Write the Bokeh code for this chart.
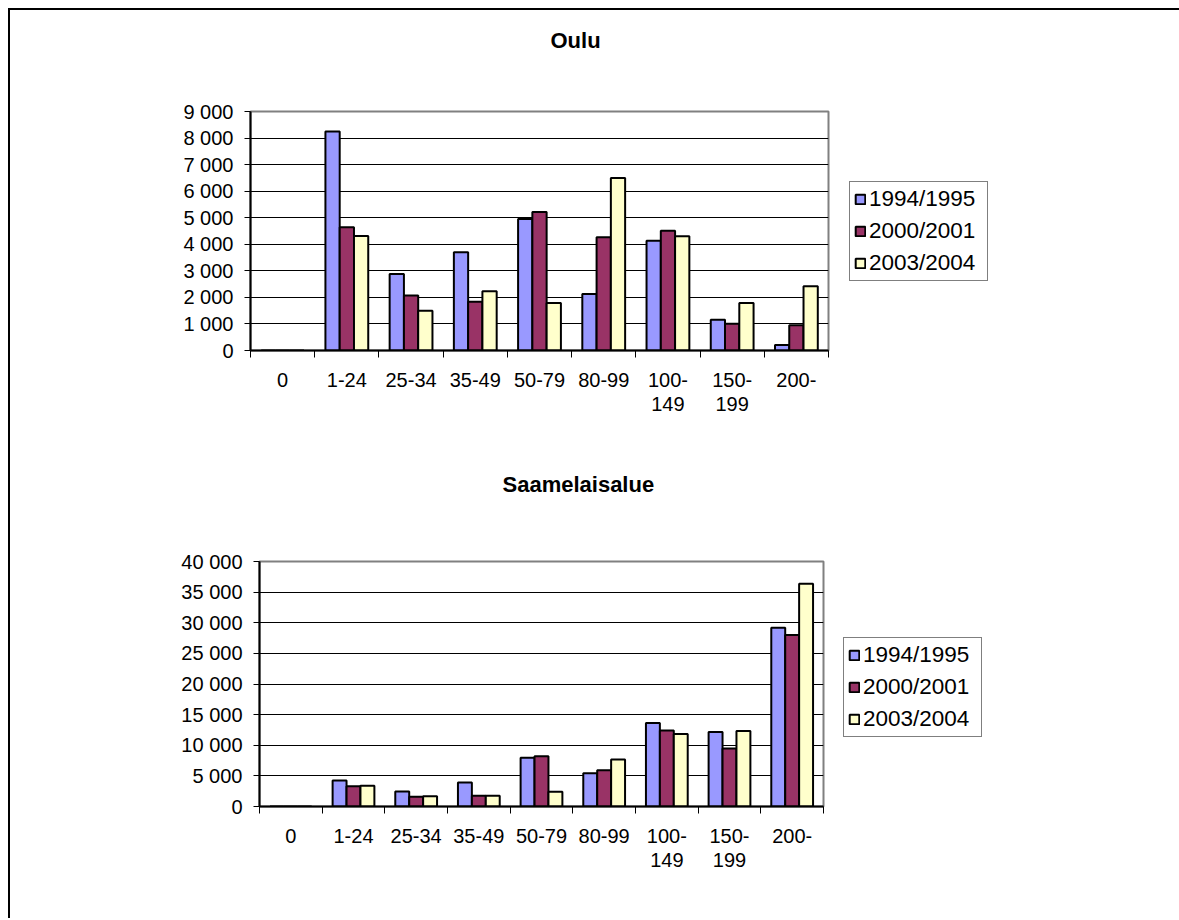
from bokeh.plotting import figure
from bokeh.models import Range1d, FixedTicker, Legend, LegendItem
from bokeh.layouts import column
from bokeh.embed import file_html
from bokeh.resources import INLINE

# ---------------- data ----------------
categories = ["0", "1-24", "25-34", "35-49", "50-79", "80-99", "100-\n149", "150-\n199", "200-"]
series_names = ["1994/1995", "2000/2001", "2003/2004"]
series_colors = ["#9999FF", "#993366", "#FFFFCC"]

oulu_1994 = [0, 8250, 2880, 3700, 4950, 2130, 4130, 1160, 210]
oulu_2000 = [0, 4640, 2070, 1840, 5220, 4260, 4510, 1010, 950]
oulu_2003 = [0, 4310, 1500, 2230, 1790, 6500, 4300, 1790, 2420]

saame_1994 = [0, 4240, 2450, 3910, 7940, 5440, 13640, 12170, 29180]
saame_2000 = [0, 3320, 1580, 1740, 8200, 5920, 12390, 9460, 27990]
saame_2003 = [0, 3370, 1690, 1740, 2390, 7660, 11850, 12340, 36360]

oulu_ticks = [0, 1000, 2000, 3000, 4000, 5000, 6000, 7000, 8000, 9000]
oulu_tick_labels = ["0", "1 000", "2 000", "3 000", "4 000", "5 000", "6 000", "7 000", "8 000", "9 000"]
saame_ticks = [0, 5000, 10000, 15000, 20000, 25000, 30000, 35000, 40000]
saame_tick_labels = ["0", "5 000", "10 000", "15 000", "20 000", "25 000", "30 000", "35 000", "40 000"]

FONT = "Liberation Sans"
FS = "20px"
FS_LEG = "22.5px"
FIG_W = 1165


def make_chart(title, series, ticks, tick_labels, fig_h, fl, ft, fw, fh, title_off, title_standoff, leg_off):
    ymax = ticks[-1]
    n = len(categories)
    p = figure(width=FIG_W, height=fig_h, output_backend="svg", toolbar_location=None,
               x_range=Range1d(-0.5, n - 0.5), y_range=Range1d(0, ymax),
               frame_width=fw, frame_height=fh,
               min_border_left=fl, min_border_top=ft,
               min_border_right=FIG_W - fl - fw, min_border_bottom=fig_h - ft - fh)
    p.background_fill_color = "white"
    p.border_fill_color = "white"
    p.outline_line_color = "#808080"
    p.outline_line_width = 2

    # title text padded with empty lines so that it sits high above the frame
    p.title.text = title + "\n\n"
    p.title.align = "left"
    p.title.offset = title_off
    p.title.standoff = title_standoff
    p.title.text_font = FONT
    p.title.text_font_size = "22px"
    p.title.text_font_style = "bold"
    p.title.text_color = "black"

    bw = 1 / 4.5
    offsets = [-bw, 0, bw]
    renderers = []
    for vals, col, off in zip(series, series_colors, offsets):
        xs = [i + off for i in range(n)]
        r = p.vbar(x=xs, top=vals, width=bw, bottom=0, fill_color=col,
                   line_color="black", line_width=2)
        renderers.append(r)

    # y axis
    ya = p.yaxis[0]
    ya.ticker = FixedTicker(ticks=ticks, minor_ticks=[])
    ya.major_label_overrides = {t: l for t, l in zip(ticks, tick_labels)}
    ya.major_tick_out = 6
    ya.major_tick_in = 0
    ya.major_tick_line_color = "black"
    ya.axis_line_color = "black"
    ya.axis_line_width = 2
    ya.major_label_text_font = FONT
    ya.major_label_text_font_size = FS
    ya.major_label_text_color = "black"
    ya.major_label_standoff = 11

    # x axis
    xa = p.xaxis[0]
    xa.ticker = FixedTicker(ticks=list(range(n)), minor_ticks=[i - 0.5 for i in range(n + 1)])
    xa.major_label_overrides = {i: c for i, c in enumerate(categories)}
    xa.major_tick_out = 0
    xa.major_tick_in = 0
    xa.minor_tick_out = 7
    xa.minor_tick_in = 0
    xa.minor_tick_line_color = "black"
    xa.axis_line_color = "black"
    xa.axis_line_width = 2
    xa.major_label_text_font = FONT
    xa.major_label_text_font_size = FS
    xa.major_label_text_line_height = 1.1
    xa.major_label_text_color = "black"
    xa.major_label_standoff = 11

    p.xgrid.visible = False
    p.ygrid.grid_line_color = "black"
    p.ygrid.grid_line_width = 1

    legend = Legend(items=[LegendItem(label=nm, renderers=[r]) for nm, r in zip(series_names, renderers)],
                    location=leg_off)
    legend.label_text_font = FONT
    legend.label_text_font_size = FS_LEG
    legend.label_text_color = "black"
    legend.border_line_color = "black"
    legend.border_line_width = 1
    legend.background_fill_alpha = 1
    legend.glyph_width = 12
    legend.glyph_height = 12
    legend.label_standoff = 3
    legend.label_height = 24
    legend.label_width = 114
    legend.spacing = 6
    legend.padding = 4
    legend.margin = 0
    p.add_layout(legend, "right")
    return p


p1 = make_chart("Oulu", [oulu_1994, oulu_2000, oulu_2003], oulu_ticks, oulu_tick_labels,
                fig_h=440, fl=240, ft=101, fw=578, fh=239, title_off=300, title_standoff=17,
                leg_off=(21, 69))
p2 = make_chart("Saamelaisalue", [saame_1994, saame_2000, saame_2003], saame_ticks, saame_tick_labels,
                fig_h=468, fl=249, ft=111, fw=564, fh=245, title_off=243, title_standoff=29,
                leg_off=(20, 69))

top_block = column(p1, styles={"margin-left": "8px", "margin-top": "8px",
                               "border-left": "2px solid black", "border-top": "2px solid black"})
bottom_block = column(p2, styles={"margin-left": "8px", "border-left": "2px solid black"})

open("out.html", "w").write(file_html([top_block, bottom_block], INLINE))
